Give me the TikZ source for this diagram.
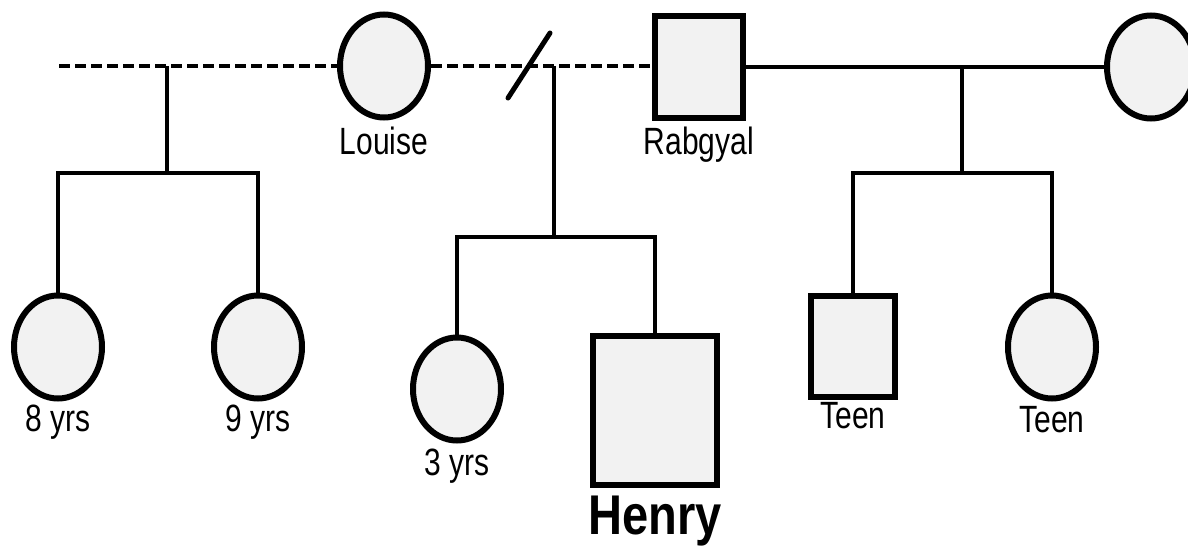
\documentclass[tikz,border=0pt]{standalone}
\usepackage{fontspec}
\setmainfont{Liberation Sans}
\newfontfamily\lblfont[FakeStretch=0.79]{Liberation Sans}
\newfontfamily\namefont[FakeStretch=0.84]{Liberation Sans}
\usetikzlibrary{shapes.geometric, positioning}
\definecolor{personfill}{RGB}{242,242,242}

\begin{document}
\begin{tikzpicture}[
    x=1pt, y=-1pt,
    female/.style={ellipse, draw=black, fill=personfill, line width=6pt, minimum width=88pt, minimum height=103pt, inner sep=0pt},
    male/.style={rectangle, draw=black, fill=personfill, line width=6pt, minimum width=88pt, minimum height=102pt, inner sep=0pt},
    link/.style={line width=3.5pt, black},
    exlink/.style={line width=4.5pt, black, dash pattern=on 11pt off 5pt},
    tag/.style={font=\lblfont\fontsize{38}{40}\selectfont, inner sep=0pt}
]
\path[use as bounding box, fill=white] (0,0) rectangle (1188,554);

% parents
\node[female] (louise) at (384,66) {};
\node[male] (rabgyal) at (699,67) {};
\node[female] (wife) at (1151,67) {};

% children
\node[female] (girl8) at (58,347) {};
\node[female] (girl9) at (258,347) {};
\node[female] (girl3) at (457,389) {};
\node[male, minimum width=124pt, minimum height=149pt] (henry) at (655,410) {};
\node[male, minimum width=84pt, minimum height=101pt] (teenboy) at (853,346) {};
\node[female] (teengirl) at (1052,347) {};

% labels
\node[tag, below=6pt of louise] (louiselbl) {Louise};
\node[tag, below=6pt of rabgyal] (rabgyallbl) {Rabgyal};
\node[tag, below=3pt of girl8] (girl8lbl) {8 yrs};
\node[tag, below=3pt of girl9] (girl9lbl) {9 yrs};
\node[tag, below=5pt of girl3] (girl3lbl) {3 yrs};
\node[tag, below=3pt of teenboy] (teenboylbl) {Teen};
\node[tag, below=5pt of teengirl] (teengirllbl) {Teen};
\node[font=\namefont\bfseries\fontsize{56}{60}\selectfont, inner sep=0pt, below=8pt of henry] (henrylbl) {Henry};

% Louise's earlier partner (dashed)
\coordinate (exleft) at (59,66);
\draw[exlink] (exleft) -- (louise.west);
\coordinate (mid1) at (167,66);
\coordinate (sib1) at (167,173);
\draw[link] (mid1) -- (sib1);
\draw[link] (girl8.north) |- (sib1) -| (girl9.north);

% Louise -- Rabgyal (separated)
\draw[exlink] (louise.east) -- (louise.east -| rabgyal.west);
\coordinate (div1) at (508,98);
\coordinate (div2) at (550,33);
\draw[link, line width=5pt, line cap=round] (div1) -- (div2);
\coordinate (mid2) at (554,66);
\coordinate (sib2) at (554,237);
\draw[link] (mid2) -- (sib2);
\draw[link] (girl3.north) |- (sib2) -| (henry.north);

% Rabgyal -- current partner
\draw[link] (rabgyal.east) -- (wife.west);
\coordinate (mid3) at (962,67);
\coordinate (sib3) at (962,173);
\draw[link] (mid3) -- (sib3);
\draw[link] (teenboy.north) |- (sib3) -| (teengirl.north);

\end{tikzpicture}
\end{document}
